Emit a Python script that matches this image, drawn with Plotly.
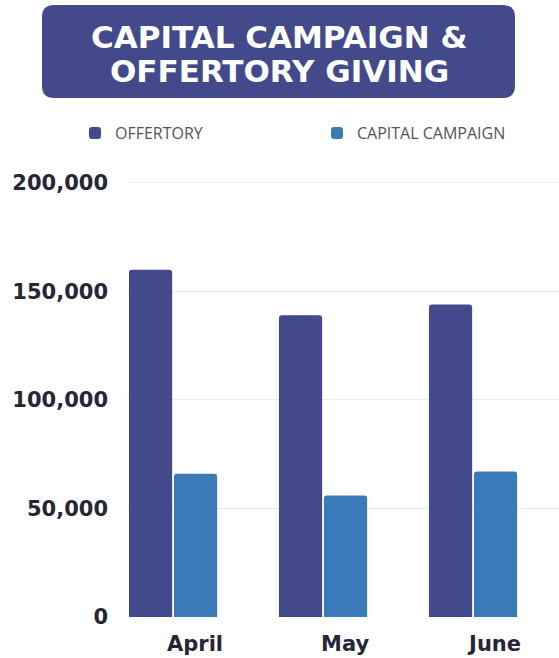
import plotly.graph_objects as go

months = ["April", "May", "June"]
offertory = [160000, 139000, 144000]
capital_campaign = [66000, 56000, 67000]
series_names = ["OFFERTORY", "CAPITAL CAMPAIGN"]
series_colors = ["#434a8c", "#3a7ab7"]
y_ticks = [0, 50000, 100000, 150000, 200000]
y_tick_labels = ["0", "50,000", "100,000", "150,000", "200,000"]
title_lines = ["CAPITAL CAMPAIGN &", "OFFERTORY GIVING"]

W, H = 559, 658
ML, MR, MT, MB = 127, 0, 172, 41
pw, ph = W - ML - MR, H - MT - MB


def px_x(p):
    return (p - ML) / pw


def px_y(p):
    return (H - MB - p) / ph


fig = go.Figure()
for name, vals, col in zip(series_names, [offertory, capital_campaign], series_colors):
    fig.add_trace(go.Bar(x=months, y=vals, name=name, marker_color=col,
                         marker_line_width=0))

# rounded title box
x0, x1, y0, y1, r = 42, 515, 5, 98, 12
path = (f"M {px_x(x0+r)} {px_y(y0)} L {px_x(x1-r)} {px_y(y0)} "
        f"Q {px_x(x1)} {px_y(y0)} {px_x(x1)} {px_y(y0+r)} "
        f"L {px_x(x1)} {px_y(y1-r)} Q {px_x(x1)} {px_y(y1)} {px_x(x1-r)} {px_y(y1)} "
        f"L {px_x(x0+r)} {px_y(y1)} Q {px_x(x0)} {px_y(y1)} {px_x(x0)} {px_y(y1-r)} "
        f"L {px_x(x0)} {px_y(y0+r)} Q {px_x(x0)} {px_y(y0)} {px_x(x0+r)} {px_y(y0)} Z")
fig.add_shape(type="path", path=path, xref="paper", yref="paper",
              fillcolor="#434a8c", line_width=0, layer="above")

for line, yc in zip(title_lines, [37, 71]):
    fig.add_annotation(text=f"<b>{line}</b>", x=px_x(279), y=px_y(yc),
                       xref="paper", yref="paper", showarrow=False,
                       xanchor="center", yanchor="middle",
                       font=dict(family="DejaVu Sans", size=31, color="white"))

fig.update_layout(
    width=W, height=H,
    margin=dict(l=ML, r=MR, t=MT, b=MB, pad=0),
    paper_bgcolor="white", plot_bgcolor="white",
    barmode="group", bargap=0.4, bargroupgap=0.04, barcornerradius=3,
    showlegend=True,
    legend=dict(orientation="h", x=px_x(107), y=px_y(133), xanchor="left",
                yanchor="middle", entrywidth=197, entrywidthmode="pixels",
                font=dict(family="Open Sans", size=16, color="#555555"),
                bgcolor="rgba(0,0,0,0)", itemclick=False),
    xaxis=dict(range=[-0.307, 2.573], showgrid=False, zeroline=False,
               showline=False, ticks="", ticklabelshift=22, ticklabelstandoff=12,
               tickfont=dict(family="DejaVu Sans", size=21, color="#262638"),
               tickprefix="<b>", ticksuffix="</b>"),
    yaxis=dict(range=[0, 205000], tickvals=y_ticks,
               ticktext=[f"<b>{t}</b>" for t in y_tick_labels],
               showgrid=True, gridcolor="#ebebeb", gridwidth=1,
               zeroline=False, showline=False, ticks="", ticklabelstandoff=18,
               tickfont=dict(family="DejaVu Sans", size=21, color="#262638")),
)

fig.write_html("out.html", config={"displayModeBar": False},
               post_script="document.body.style.margin='0px';")
